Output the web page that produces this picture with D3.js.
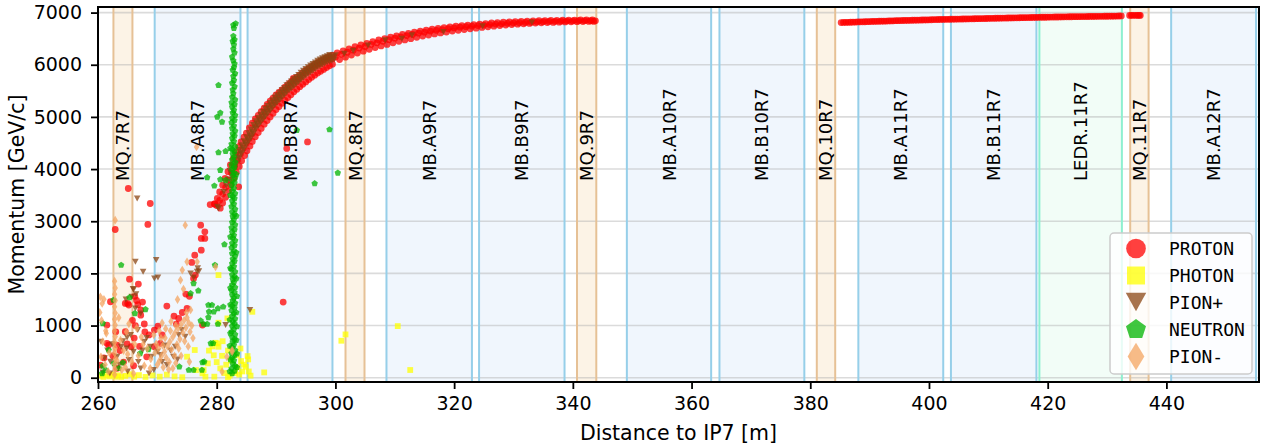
<!DOCTYPE html>
<html><head><meta charset="utf-8">
<script src="https://cdn.jsdelivr.net/npm/d3@7"></script>
<style>html,body{margin:0;padding:0;background:#fff;} svg{display:block;}</style>
</head><body>
<svg id="chart" width="1268" height="446"></svg>
<script>
// ---------------- DATA ----------------
const xTicks = [260, 280, 300, 320, 340, 360, 380, 400, 420, 440];
const yTicks = [0, 1000, 2000, 3000, 4000, 5000, 6000, 7000];

const elementNames = ["MQ.7R7","MB.A8R7","MB.B8R7","MQ.8R7","MB.A9R7","MB.B9R7","MQ.9R7","MB.A10R7","MB.B10R7","MQ.10R7","MB.A11R7","MB.B11R7","LEDR.11R7","MQ.11R7","MB.A12R7"];
const elementStart = [262.6,269.55,285.2,301.7,308.6,324.2,340.7,349.1,364.7,381.1,388.1,403.7,418.6,433.9,440.8];
const elementEnd   = [265.8,284.0,299.5,304.9,323.0,338.6,343.95,363.3,379.0,384.2,402.4,418.1,432.5,437.0,455.1];
const elementType  = ["MQ","MB","MB","MQ","MB","MB","MQ","MB","MB","MQ","MB","MB","LEDR","MQ","MB"];

const particleNames = ["PROTON","PHOTON","PION+","NEUTRON","PION-"];

// PROTON
const protonBandCenter = [[280.0,3300],[280.5,3400],[281.0,3520],[281.5,3650],[282.0,3790],[282.5,3920],[283.0,4050],[283.5,4170],[284.0,4290],[284.5,4400],[285.0,4500],[285.5,4590],[286.0,4680],[286.5,4790],[287.0,4870],[287.5,4950],[288.0,5020],[288.5,5090],[289.0,5160],[289.5,5230],[290.0,5290],[290.5,5350],[291.0,5410],[291.5,5470],[292.0,5530],[292.5,5580],[293.0,5630],[293.5,5680],[294.0,5730],[294.5,5780],[295.0,5830],[295.5,5870],[296.0,5910],[296.5,5950],[297.0,5990],[297.5,6020],[298.0,6050],[298.5,6080],[299.0,6100],[299.5,6120],[300.0,6150],[301.0,6200],[302.0,6240],[303.0,6280],[304.0,6320],[305.0,6350],[306.0,6390],[307.0,6420],[308.0,6450],[309.0,6480],[310.0,6510],[311.0,6535],[312.0,6560],[313.0,6580],[314.0,6605],[315.0,6625],[316.0,6645],[317.0,6660],[318.0,6675],[319.0,6690],[320.0,6705],[321.0,6720],[322.0,6730],[323.0,6740],[324.0,6750],[325.0,6760],[326.0,6770],[327.0,6780],[328.0,6785],[329.0,6795],[330.0,6800],[331.0,6805],[332.0,6810],[333.0,6815],[334.0,6820],[335.0,6825],[336.0,6830],[337.0,6832],[338.0,6835],[339.0,6838],[340.0,6840],[341.0,6843],[342.0,6845],[343.0,6845],[343.8,6842]];
const protonBandUpper = [[279.7,3330],[280.1,3440],[280.5,3560],[281.0,3690],[281.4,3820],[281.9,3950],[282.3,4080],[282.8,4200],[283.2,4320],[283.7,4430],[284.1,4520],[284.6,4610],[285.0,4690],[285.5,4790],[286.0,4880],[286.5,4960],[287.0,5030],[287.5,5100],[288.0,5170],[288.5,5240],[289.0,5300],[289.5,5360],[290.0,5420],[290.5,5470],[291.0,5520],[291.5,5570],[292.0,5620],[292.5,5665],[293.0,5710],[293.5,5755],[294.0,5800],[294.5,5845],[295.0,5890],[295.5,5930],[296.0,5970],[296.5,6005],[297.0,6040],[297.5,6070],[298.0,6100],[298.5,6130],[299.0,6160],[299.5,6185],[300.3,6225],[301.3,6265],[302.3,6305],[303.3,6345],[304.3,6380],[305.3,6410],[306.3,6445],[307.3,6475],[308.3,6500],[309.3,6530],[310.3,6555],[311.3,6580],[312.3,6600],[313.3,6625],[314.3,6645],[315.3,6665],[316.3,6680],[317.3,6695],[318.3,6710],[319.3,6725],[320.3,6740],[321.3,6750],[322.3,6760],[323.3,6770],[324.3,6780],[325.3,6790],[326.3,6800],[327.3,6808],[328.3,6815],[329.3,6822],[330.3,6828],[331.3,6832],[332.3,6836],[333.3,6840],[334.3,6843],[335.3,6846],[336.3,6849],[337.3,6851],[338.3,6853],[339.3,6855],[340.3,6857],[341.3,6858],[342.3,6860],[343.3,6858]];
const protonBandLower = [[280.6,3250],[281.0,3350],[281.5,3460],[282.0,3580],[282.4,3700],[282.9,3820],[283.3,3940],[283.8,4050],[284.2,4160],[284.7,4260],[285.1,4350],[285.6,4440],[286.0,4530],[286.5,4620],[287.0,4700],[287.5,4780],[288.0,4860],[288.5,4930],[289.0,5000],[289.5,5070],[290.0,5140],[290.5,5200],[291.0,5260],[291.5,5315],[292.0,5370],[292.5,5425],[293.0,5480],[293.5,5530],[294.0,5580],[294.5,5625],[295.0,5670],[295.5,5715],[296.0,5760],[296.5,5800],[297.0,5840],[297.5,5875],[298.0,5910],[298.5,5945],[299.0,5980],[299.5,6010],[300.7,6100],[301.7,6145],[302.7,6185],[303.7,6225],[304.7,6260],[305.7,6295],[306.7,6330],[307.7,6360],[308.7,6390],[309.7,6420],[310.7,6450],[311.7,6475],[312.7,6500],[313.7,6525],[314.7,6550],[315.7,6570],[316.7,6590],[317.7,6610],[318.7,6628],[319.7,6645],[320.7,6660],[321.7,6675],[322.7,6690],[323.7,6702],[324.7,6715],[325.7,6728],[326.7,6740],[327.7,6750],[328.7,6760],[329.7,6770],[330.7,6778],[331.7,6785],[332.7,6792],[333.7,6798],[334.7,6803],[335.7,6808],[336.7,6812],[337.7,6816],[338.7,6820],[339.7,6823],[340.7,6826],[341.7,6828],[342.7,6830],[343.5,6830]];
const protonBand2 = [[385.2,6808],[386.0,6812],[386.8,6815],[387.6,6818],[388.4,6822],[389.2,6824],[390.0,6828],[390.8,6831],[391.6,6834],[392.4,6836],[393.2,6840],[394.0,6842],[394.8,6845],[395.6,6848],[396.4,6850],[397.2,6853],[398.0,6855],[398.8,6858],[399.6,6860],[400.4,6863],[401.2,6866],[402.0,6868],[402.8,6870],[403.6,6872],[404.4,6874],[405.2,6876],[406.0,6878],[406.8,6880],[407.6,6882],[408.4,6884],[409.2,6886],[410.0,6888],[410.8,6890],[411.6,6892],[412.4,6894],[413.2,6896],[414.0,6898],[414.8,6900],[415.6,6902],[416.4,6904],[417.2,6906],[418.0,6908],[418.8,6910],[419.6,6911],[420.4,6913],[421.2,6915],[422.0,6916],[422.8,6918],[423.6,6920],[424.4,6921],[425.2,6922],[426.0,6924],[426.8,6925],[427.6,6927],[428.4,6928],[429.2,6929],[430.0,6930],[430.8,6932],[431.6,6933],[432.4,6935],
[385.6,6811],[386.4,6814],[387.2,6817],[388.0,6820],[388.8,6823],[389.6,6826],[390.4,6830],[391.2,6833],[392.0,6835],[392.8,6838],[393.6,6841],[394.4,6844],[395.2,6847],[396.0,6849],[396.8,6852],[397.6,6854],[398.4,6857],[399.2,6859],[400.0,6862],[400.8,6865],[401.6,6867],[402.4,6869],[403.2,6871],[404.0,6873],[404.8,6875],[405.6,6877],[406.4,6879],[407.2,6881],[408.0,6883],[408.8,6885],[409.6,6887],[410.4,6889],[411.2,6891],[412.0,6893],[412.8,6895],[413.6,6897],[414.4,6899],[415.2,6901],[416.0,6903],[416.8,6905],[417.6,6907],[418.4,6909],[419.2,6910],[420.0,6912],[420.8,6914],[421.6,6915],[422.4,6917],[423.2,6919],[424.0,6920],[424.8,6921],[425.6,6923],[426.4,6924],[427.2,6926],[428.0,6927],[428.8,6928],[429.6,6930],[430.4,6931],[431.2,6932],[432.0,6934],
[433.8,6945],[434.1,6947],[434.4,6948],[434.8,6946],[435.1,6947],[435.4,6947],[435.6,6945]];
const protonScatter = [[268.8,3340],[262.9,2842],[268.4,2938],[277.3,2925],[278.0,2797],[277.4,2670],[278.0,2670],[277.4,2446],[276.3,2350],[275.8,2210],[276.4,1967],[276.1,1903],[274.8,1603],[275.0,1329],[273.6,1137],[273.2,1028],[271.6,1373],[277.6,1009],[265.3,1890],[266.8,1795],[266.2,1560],[266.5,1480],[267.5,1450],[266.7,1400],[267.2,1300],[265.0,1424],[266.3,1000],[267.8,1030],[267.2,1200],[261.8,626],[263.2,626],[265.6,594],[269.5,594],[269.5,913],[270.1,990],[291.2,1450],[278.9,3320],[279.6,3330],[291.8,4395],[295.3,4521],[265.1,3628],[283.7,3659],[292.9,5740],[262.1,1456],[264.6,1425],[265.2,1393],[261.5,1010],[264.6,881],[261.5,659],[263.2,180],[264.3,300],[260.4,240],[275.4,1560],[274.2,1250],[272.8,1180],[270.8,820],[268.2,400],[266.0,230],[262.5,420],[263.7,520],[264.9,650],[266.1,760],[267.0,600],[268.6,820],[261.0,380],[263.0,880],[265.8,1100],[267.9,880],[270.5,660]];

// PHOTON
const photonPoints = [[260.3,40],[260.9,15],[261.4,55],[261.9,25],[262.4,60],[262.9,20],[263.4,45],[263.9,15],[264.6,35],[265.3,65],[266.1,20],[266.9,50],[268.0,15],[269.2,45],[270.4,20],[271.6,60],[272.9,25],[274.2,10],[275.0,403],[276.3,531],[276.5,147],[277.6,83],[278.5,275],[277.8,147],[278.1,19],[278.7,520],[279.3,600],[279.8,670],[280.3,594],[280.1,658],[279.5,430],[280.0,300],[280.6,180],[280.9,420],[281.3,90],[281.6,250],[281.9,520],[282.2,40],[282.4,330],[283.5,200],[283.8,60],[283.4,430],[284.1,320],[284.3,120],[284.6,250],[284.9,211],[285.2,415],[285.3,351],[285.4,120],[284.0,560],[281.0,700],[280.3,1967],[280.3,1054],[281.8,1137],[286.0,1264],[288.0,102],[301.0,709],[301.7,830],[310.5,990],[312.6,148],[279.6,20],[281.9,10],[283.1,90],[285.7,40]];

// PION+
const pionPlusBand = [[281.2,3560],[281.6,3680],[282.0,3800],
[282.4,3924],[282.8,4028],[283.2,4128],[283.6,4224],[284.0,4320],[284.4,4408],[284.8,4490],[285.2,4566],[285.6,4638],[286.0,4710],[286.4,4798],[286.8,4868],[287.2,4932],[287.6,4994],[288.0,5050],[288.4,5106],[288.8,5162],[289.2,5218],[289.6,5272],[290.0,5320],[290.4,5368],[290.8,5416],[291.2,5464],[291.6,5510],[292.0,5560],[292.4,5600],[292.8,5640],[293.2,5680],[293.6,5720],[294.0,5760],[294.4,5800],[294.8,5840],[295.2,5876],[295.6,5908],[296.0,5940],[296.4,5972],[296.8,6004],[297.2,6032],[297.6,6056],[298.0,6080],[298.4,6104],[298.8,6122],[299.2,6138],[299.6,6156],[300.0,6180],
[282.6,3908],[283.0,4010],[283.4,4106],[283.8,4202],[284.2,4294],[284.6,4374],[285.0,4460],[285.4,4532],[285.8,4604],[286.2,4684],[286.6,4766],[287.0,4830],[287.4,4894],[287.8,4952],[288.2,5008],[288.6,5064],[289.0,5120],[289.4,5176],[289.8,5226],[290.2,5274],[290.6,5322],[291.0,5370],[291.4,5418],[291.8,5466],[292.2,5510],[292.6,5550],[293.0,5590],[293.4,5630],[293.8,5670],[294.2,5710],[294.6,5750],[295.0,5790],[295.4,5822],[295.8,5854],[296.2,5886],[296.6,5918],[297.0,5950],[297.4,5972],[297.8,5998],[298.2,6022],[298.6,6046],[299.0,6060],[299.4,6076],[299.8,6100],
[282.2,3970],[282.6,4075],[283.0,4175],[283.4,4270],[283.8,4365],[284.2,4455],[284.6,4535],[285.0,4610],[285.4,4685],[285.8,4760],[286.2,4845],[286.6,4915],[287.0,4980],[287.4,5040],[287.8,5100],[288.2,5155],[288.6,5210],[289.0,5265],[289.4,5320],[289.8,5370],[290.2,5415],[290.6,5465],[291.0,5510],[291.4,5555],[291.8,5605],[292.2,5645],[292.6,5685],[293.0,5725],[293.4,5765],[293.8,5805],[294.2,5845],[294.6,5885],[295.0,5920],[295.4,5950],[295.8,5985],[296.2,6015],[296.6,6045],[297.0,6075],[297.4,6100],[297.8,6125],[298.2,6145],[298.6,6165],[299.0,6185],
[301.5,6210],[303.0,6270],[305.5,6370],[308.4,6471],[311.2,6500],[312.9,6565],[318.2,6628],[324.8,6740],[333.1,6810]];
const pionPlusScatter = [[266.6,3437],[266.3,2222],[269.8,2255],[277.0,2043],[276.1,1923],[270.1,1923],[266.0,1693],[265.7,1552],[285.6,1296],[267.6,2030],[281.5,1009],[280.3,3245],[276.7,2031],[280.1,3276],[269.5,1903],[264.7,1500],[266.3,1329],[267.2,1233],[266.7,914],[264.9,773],[267.8,690],[268.8,594],[270.0,498],[266.0,498],[263.2,403],[262.1,307],[265.2,339],[269.4,147],[268.6,83],[271.6,243],[272.7,403],[274.1,914],[273.6,818],[274.7,786],[273.0,594],[260.5,690],[261.1,371],[263.9,594],[264.8,562],[267.2,179],[270.5,435],[265.9,1700],[266.4,1600],[275.6,2000],[276.8,2100],[261.6,520],[262.4,640],[263.6,250],[264.2,700],[265.5,820],[266.8,300],[267.5,520],[268.2,760],[269.0,400],[270.8,300],[271.2,620],[272.2,520],[273.4,350],[260.8,100],[262.0,80],[265.0,120]];

// NEUTRON
const neutronColumn = [[282.6,80],[282.5,175],[282.7,270],[282.6,385],[282.5,470],[282.6,580],[282.7,690],[282.6,775],[282.5,880],[282.6,990],[282.7,1075],[282.6,1180],[282.5,1290],[282.6,1375],[282.7,1480],[282.6,1590],[282.5,1675],[282.6,1780],[282.7,1890],[282.6,1975],[282.5,2080],[282.6,2190],[282.7,2275],[282.6,2380],[282.5,2490],[282.6,2575],[282.7,2680],[282.6,2790],[282.5,2875],[282.6,2980],[282.7,3090],[282.6,3175],[282.5,3280],[282.6,3390],[282.7,3475],[282.6,3580],[282.5,3690],[282.6,3775],[282.7,3880],[282.6,3990],[282.5,4075],[282.6,4180],[282.7,4290],[282.6,4375],[282.5,4480],[282.6,4590],[282.7,4675],[282.6,4780],[282.5,4890],[282.6,4975],[282.7,5080],[282.6,5190],[282.5,5275],[282.6,5380],
[283.0,130],[283.1,225],[282.9,330],[283.0,430],[283.1,525],[282.9,630],[283.0,735],[283.1,830],[282.9,930],[283.0,1035],[283.1,1130],[282.9,1230],[283.0,1335],[283.1,1430],[282.9,1530],[283.0,1635],[283.1,1730],[282.9,1830],[283.0,1935],[283.1,2030],[282.9,2130],[283.0,2235],[283.1,2330],[282.9,2430],[283.0,2535],[283.1,2630],[282.9,2730],[283.0,2835],[283.1,2930],[282.9,3030],[283.0,3135],[283.1,3230],[282.9,3330],[283.0,3435],[283.1,3530],[282.9,3630],[283.0,3735],[283.1,3830],[282.9,3930],[283.0,4035],[283.1,4130],[282.9,4230],[283.0,4335],[283.1,4430],[282.9,4530],[283.0,4635],[283.1,4730],[282.9,4830],[283.0,4935],[283.1,5030],[282.9,5130],[283.0,5235],[283.1,5330],
[282.2,120],[283.4,200],[282.3,350],[283.4,460],[282.2,610],[283.3,720],[282.3,850],[283.4,980],[282.2,1110],[283.3,1250],[282.3,1400],[283.4,1560],[282.3,1720],[283.3,1900],[282.3,2100],[283.3,2400],[282.3,2700],[283.3,3100],[282.3,3500],[283.3,3900],[282.3,4400],
[282.8,5450],[282.7,5520],[283.0,5580],[282.6,5650],[282.9,5700],[282.8,5780],[283.1,5830],[282.7,5900],[282.9,5950],[283.0,6020],[282.8,6080],[282.6,6150],[283.0,6230],[282.8,6300],[282.9,6380],[282.7,6450],[283.0,6480],[282.8,6550],[282.9,6700],[282.8,6760],[283.2,6790]];
const neutronScatter = [[280.3,5607],[280.6,5077],[280.1,5000],[280.9,4904],[280.3,4318],[281.5,4343],[280.6,3979],[278.4,3839],[279.6,3678],[280.6,3800],[281.5,3787],[293.5,4745],[299.0,4758],[300.4,3927],[296.5,3724],[263.9,2159],[279.7,2159],[281.3,2555],[276.1,1808],[275.6,1616],[276.9,1667],[278.6,1392],[278.7,1265],[280.2,1328],[277.3,1092],[278.4,1028],[278.6,1156],[280.2,1028],[279.0,658],[277.6,294],[273.7,211],[275.3,147],[277.5,147],[265.3,1539],[266.2,1233],[268.0,1310],[268.5,543],[267.1,466],[261.8,531],[261.3,147],[260.7,83],[263.5,180],[262.7,275],[264.2,288],[260.8,1041],[262.6,1489],[260.8,224],[279.2,1393],[279.5,1264],[281.1,1360],[277.8,1029],[279.4,659],[277.9,307],[276.1,147]];

// PION-
const pionMinusPoints = [[262.8,60],[262.9,160],[262.8,260],[262.9,360],[262.8,470],[262.9,570],[262.8,680],[262.9,790],[262.8,900],[262.9,1010],[262.8,1120],[262.9,1240],[262.8,1360],[262.9,1480],[262.8,1600],[262.9,1720],[262.8,1850],[262.9,3021],[260.4,1550],[260.7,1425],[261.0,1502],[261.4,851],[260.8,690],[260.3,1250],[260.5,400],[261.2,250],[261.7,120],[263.8,720],[264.3,520],[264.8,880],[265.2,1034],[265.7,300],[266.2,640],[266.8,420],[267.3,780],[267.8,230],[268.3,560],[268.9,360],[269.4,820],[264.0,150],[265.0,450],[266.5,950],[263.5,1150],[270.0,250],[270.4,330],[270.7,420],[271.0,200],[271.2,500],[271.5,380],[271.7,600],[272.0,300],[272.1,690],[272.4,540],[272.6,780],[272.9,420],[273.0,860],[273.3,640],[273.5,940],[273.8,740],[274.0,1020],[274.3,860],[274.5,1100],[274.8,960],[275.0,1150],[275.3,1050],[271.3,760],[272.2,900],[270.9,620],[273.6,560],[274.6,700],[275.5,880],[273.1,280],[271.9,160],[270.2,560],[270.6,760],[271.4,940],[272.3,1080],[273.1,1000],[274.9,1250],[275.8,1000],[276.0,760],[275.2,600],[274.0,420],[272.6,180],[270.3,900],[269.8,650],[270.8,1050],[275.6,1300],[274.7,2925],[274.2,2064],[273.9,1872],[276.6,4425],[275.0,2222],[276.7,2222],[279.8,2126],[273.4,1500],[274.4,1700],[275.4,306],[282.6,530],[281.7,402],[280.9,115],[282.6,498],[261.9,480],[263.2,330],[264.6,200],[266.0,80],[267.6,640],[268.8,180],[269.6,480],[261.3,900],[260.6,1100]];

// ---------------- CHART ----------------
const svg = d3.select("#chart");
const L = 98, R = 1259, T = 7, B = 382;
const x = d3.scaleLinear().domain([260, 455.6]).range([L, R]);
const y = d3.scaleLinear().domain([-82, 7107]).range([B, T]);

const typeStyle = {
  MB:   {fill: "#f0f6fd", edge: "#96cfe9"},
  MQ:   {fill: "#fcf3e6", edge: "#e6c196"},
  LEDR: {fill: "#f2fdf7", edge: "#8ef0d0"}
};

svg.append("defs").append("clipPath").attr("id","clip")
  .append("rect").attr("x",L).attr("y",T).attr("width",R-L).attr("height",B-T);

const plot = svg.append("g").attr("clip-path","url(#clip)");
const elements = elementNames.map((n,i)=>({name:n, s:elementStart[i], e:elementEnd[i], t:elementType[i]}));

plot.selectAll("rect.band").data(elements).join("rect")
  .attr("x", d=>x(d.s)).attr("width", d=>x(d.e)-x(d.s))
  .attr("y", T).attr("height", B-T)
  .attr("fill", d=>typeStyle[d.t].fill);

plot.selectAll("line.grid").data(yTicks).join("line")
  .attr("x1",L).attr("x2",R).attr("y1",d=>y(d)).attr("y2",d=>y(d))
  .attr("stroke","#b0b0b0").attr("stroke-opacity",0.45).attr("stroke-width",1.6);

elements.forEach(d=>{
  [d.s,d.e].forEach(v=>{
    plot.append("line").attr("x1",x(v)).attr("x2",x(v)).attr("y1",T).attr("y2",B)
      .attr("stroke",typeStyle[d.t].edge).attr("stroke-width",2);
  });
});

function markerPath(kind, k){
  const p = d3.path();
  if (kind==="circle"){ const r=3.4*k; p.moveTo(r,0); p.arc(0,0,r,0,2*Math.PI); }
  else if (kind==="square"){ const h=2.9*k; p.rect(-h,-h,2*h,2*h); }
  else if (kind==="triDown"){ const w=3.3*k, hh=3.0*k; p.moveTo(-w,-hh); p.lineTo(w,-hh); p.lineTo(0,hh); p.closePath(); }
  else if (kind==="pentagon"){ const r=3.4*k; for(let i=0;i<5;i++){ const a=-Math.PI/2+i*2*Math.PI/5; const px=r*Math.cos(a), py=r*Math.sin(a); if(i) p.lineTo(px,py); else p.moveTo(px,py);} p.closePath(); }
  else if (kind==="diamond"){ const w=2.7*k, hh=4.4*k; p.moveTo(0,-hh); p.lineTo(w,0); p.lineTo(0,hh); p.lineTo(-w,0); p.closePath(); }
  return p.toString();
}

const particleStyle = {
  "PROTON":  {color:"#ff0000", shape:"circle"},
  "PHOTON":  {color:"#ffff00", shape:"square"},
  "PION+":   {color:"#8b4513", shape:"triDown"},
  "NEUTRON": {color:"#00b400", shape:"pentagon"},
  "PION-":   {color:"#f4a460", shape:"diamond"}
};
const particleData = {
  "PROTON":  [].concat(protonScatter, protonBandLower, protonBandUpper, protonBandCenter, protonBand2),
  "PHOTON":  photonPoints,
  "PION+":   [].concat(pionPlusScatter, pionPlusBand),
  "NEUTRON": [].concat(neutronScatter, neutronColumn),
  "PION-":   pionMinusPoints
};
const ALPHA = 0.75;
particleNames.forEach(name=>{
  const st = particleStyle[name];
  const path = markerPath(st.shape, 1);
  plot.append("g").selectAll("path").data(particleData[name]).join("path")
    .attr("d", path)
    .attr("transform", d=>`translate(${x(d[0])},${y(d[1])})`)
    .attr("fill", st.color).attr("fill-opacity", ALPHA);
});

plot.selectAll("text.el").data(elements).join("text")
  .attr("transform", d=>`translate(${x((d.s+d.e)/2)},181) rotate(-90)`)
  .attr("text-anchor","start").attr("dominant-baseline","central")
  .attr("font-family","DejaVu Sans").attr("font-size",18).attr("fill","#000")
  .text(d=>d.name);

const fontTick = 19;
const xAxis = d3.axisBottom(x).tickValues(xTicks).tickSize(7).tickPadding(8).tickSizeOuter(0).tickFormat(d3.format("d"));
const gx = svg.append("g").attr("transform",`translate(0,${B})`).call(xAxis);
gx.select(".domain").remove();
gx.selectAll("line").attr("stroke","#000").attr("stroke-width",1.8);
gx.selectAll("text").attr("font-family","DejaVu Sans").attr("font-size",fontTick).attr("fill","#000");

const yAxis = d3.axisLeft(y).tickValues(yTicks).tickSize(7).tickPadding(9).tickSizeOuter(0).tickFormat(d3.format("d"));
const gy = svg.append("g").attr("transform",`translate(${L},0)`).call(yAxis);
gy.select(".domain").remove();
gy.selectAll("line").attr("stroke","#000").attr("stroke-width",1.8);
gy.selectAll("text").attr("font-family","DejaVu Sans").attr("font-size",fontTick).attr("fill","#000");

svg.append("rect").attr("x",L).attr("y",T).attr("width",R-L).attr("height",B-T)
  .attr("fill","none").attr("stroke","#000").attr("stroke-width",2);

svg.append("text").attr("x",(L+R)/2).attr("y",440)
  .attr("text-anchor","middle").attr("font-family","DejaVu Sans").attr("font-size",20.5).attr("fill","#000")
  .text("Distance to IP7 [m]");
svg.append("text").attr("transform",`translate(24,${(T+B)/2}) rotate(-90)`)
  .attr("text-anchor","middle").attr("font-family","DejaVu Sans").attr("font-size",20.5).attr("fill","#000")
  .text("Momentum [GeV/c]");

const lg = svg.append("g");
lg.append("rect").attr("x",1110).attr("y",233).attr("width",142).attr("height",141).attr("rx",4)
  .attr("fill","#fff").attr("fill-opacity",0.8).attr("stroke","#cccccc").attr("stroke-width",1.5);
const rowY = [248.5, 275.5, 302, 329.5, 356.5];
particleNames.forEach((name,i)=>{
  const st = particleStyle[name];
  lg.append("path").attr("d", markerPath(st.shape, i===0?2.9:3.1))
    .attr("transform",`translate(1136,${rowY[i]})`)
    .attr("fill", st.color).attr("fill-opacity", ALPHA);
  lg.append("text").attr("x",1169).attr("y",rowY[i]).attr("dominant-baseline","central")
    .attr("font-family","DejaVu Sans Mono").attr("font-size",18).attr("fill","#000").text(name);
});
</script>
</body></html>
